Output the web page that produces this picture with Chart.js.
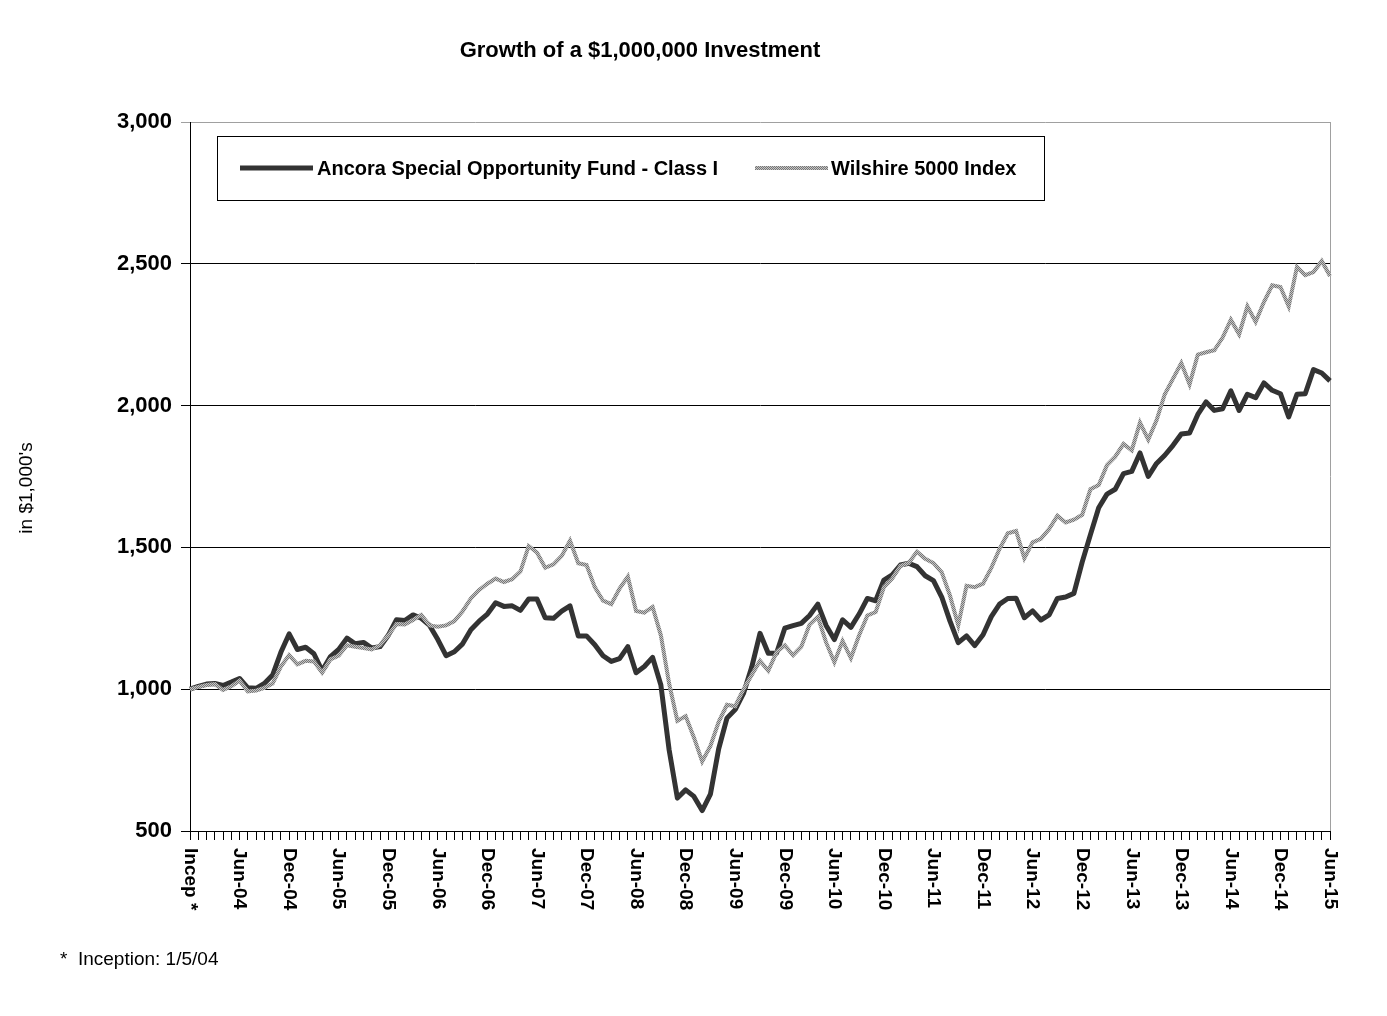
<!DOCTYPE html>
<html>
<head>
<meta charset="utf-8">
<title>Growth of a $1,000,000 Investment</title>
<script src="https://cdn.jsdelivr.net/npm/chart.js@4.4.1/dist/chart.umd.min.js"></script>
<style>
  html, body { margin: 0; padding: 0; background: #fff; }
  #wrap { width: 1387px; height: 1016px; position: relative; }
</style>
</head>
<body>
<div id="wrap"><canvas id="growthChart"></canvas></div>
<script>
// ---------------- DATA ----------------
// labelled ticks, one every 6 months (Incep = start value)
const tickLabels = ['Incep *', 'Jun-04', 'Dec-04', 'Jun-05', 'Dec-05', 'Jun-06', 'Dec-06',
  'Jun-07', 'Dec-07', 'Jun-08', 'Dec-08', 'Jun-09', 'Dec-09', 'Jun-10', 'Dec-10',
  'Jun-11', 'Dec-11', 'Jun-12', 'Dec-12', 'Jun-13', 'Dec-13', 'Jun-14', 'Dec-14', 'Jun-15'];

const seriesNames = ['Ancora Special Opportunity Fund - Class I', 'Wilshire 5000 Index'];

// monthly values in $1,000's
const fundValues = [
  1000, 1010, 1018, 1020, 1013, 1025, 1038, 1005, 1003, 1020, 1050, 1130,
  1195, 1140, 1148, 1125, 1065, 1115, 1140, 1180, 1160, 1165, 1145, 1150,
  1190, 1245, 1242, 1262, 1250, 1225, 1175, 1118, 1132, 1160, 1210, 1240,
  1265, 1305, 1292, 1294, 1278, 1318, 1318, 1252, 1250, 1275, 1294, 1188,
  1188, 1157, 1118, 1098, 1108, 1150, 1058, 1080, 1112, 1015, 786, 616,
  645, 622, 572, 630, 790, 898, 928, 985, 1078, 1197, 1127, 1127,
  1215, 1224, 1232, 1260, 1300, 1225, 1175, 1245, 1218, 1265, 1320, 1312,
  1385, 1403, 1438, 1444, 1432, 1400, 1383, 1325, 1240, 1164, 1188, 1154,
  1192, 1256, 1300, 1320, 1321, 1252, 1276, 1244, 1262, 1320, 1325, 1338,
  1448, 1545, 1640, 1688, 1705, 1760, 1768, 1833, 1750, 1796, 1825, 1860,
  1900, 1903, 1969, 2013, 1983, 1989, 2052, 1983, 2040, 2028, 2080, 2054,
  2042, 1960, 2040, 2042, 2127, 2115, 2087
];

const indexValues = [
  1000, 1008, 1015, 1018, 997, 1010, 1030, 992, 995, 1005, 1020, 1080,
  1120, 1088, 1100, 1098, 1058, 1105, 1118, 1155, 1150, 1145, 1140, 1155,
  1190, 1230, 1228, 1244, 1262, 1225, 1220, 1225, 1240, 1275, 1320, 1350,
  1372, 1390, 1378, 1388, 1415, 1505, 1482, 1428, 1440, 1470, 1524, 1444,
  1438, 1360, 1312, 1300, 1355, 1397, 1276, 1270, 1290, 1190, 1020, 888,
  905, 830, 745, 800, 885, 945, 940, 1000, 1050, 1100, 1065, 1130,
  1155, 1120, 1150, 1228, 1255, 1165, 1095, 1170, 1110, 1190, 1260, 1272,
  1360, 1390, 1435, 1445, 1485, 1460, 1445, 1412, 1330, 1225, 1365, 1360,
  1372, 1428, 1495, 1550, 1558, 1462, 1518, 1530, 1565, 1612, 1588, 1598,
  1615, 1705, 1720, 1790, 1820, 1865, 1842, 1940, 1880, 1948, 2040, 2095,
  2150, 2075, 2180, 2188, 2195, 2240, 2303, 2251, 2350, 2295, 2365, 2424,
  2418, 2350, 2489, 2460, 2471, 2510, 2457
];

const titleText = 'Growth of a $1,000,000 Investment';
const yTitle = "in $1,000's";
const footnote = '*  Inception: 1/5/04';

// one category per month, only every 6th one gets a name
const monthLabels = fundValues.map((v, i) => i % 6 === 0 ? tickLabels[i / 6] : '');

const FONT = '"Liberation Sans", Arial, sans-serif';
Chart.defaults.font.family = FONT;
Chart.defaults.color = '#000';

const canvas = document.getElementById('growthChart');

// the index line is drawn as a grey checkered (dithered) band like the original
function checkerPattern() {
  const c = document.createElement('canvas');
  c.width = 2; c.height = 2;
  const g = c.getContext('2d');
  g.fillStyle = '#c4c4c4'; g.fillRect(0, 0, 2, 2);
  g.fillStyle = '#767676'; g.fillRect(0, 0, 1, 1); g.fillRect(1, 1, 1, 1);
  return canvas.getContext('2d').createPattern(c, 'repeat');
}
const greyLine = checkerPattern();

// ---------------- EXTRA DRAWING ----------------
// title, boxed legend, axis title, rotated month labels and the footnote
const decorations = {
  id: 'decorations',
  beforeDatasetsDraw(chart) {
    const { ctx, chartArea: a } = chart;
    ctx.save();
    ctx.strokeStyle = '#a0a0a0';
    ctx.lineWidth = 1;
    ctx.beginPath();
    ctx.moveTo(a.right + 0.5, a.top);
    ctx.lineTo(a.right + 0.5, a.bottom);
    ctx.stroke();
    ctx.restore();
  },
  afterDraw(chart) {
    const { ctx, chartArea: a } = chart;
    const xs = chart.scales.x;
    ctx.save();

    // title
    ctx.fillStyle = '#000';
    ctx.font = 'bold 22px ' + FONT;
    ctx.textAlign = 'center';
    ctx.textBaseline = 'middle';
    ctx.fillText(titleText, 640, 51);

    // y axis title, reads bottom to top
    ctx.save();
    ctx.font = '19px ' + FONT;
    ctx.translate(27, 488);
    ctx.rotate(-Math.PI / 2);
    ctx.fillText(yTitle, 0, 0);
    ctx.restore();

    // legend box
    const lx = a.left + 27, ly = a.top + 14, lw = 827, lh = 64;
    ctx.fillStyle = '#fff';
    ctx.fillRect(lx, ly, lw, lh);
    ctx.strokeStyle = '#000';
    ctx.lineWidth = 1;
    ctx.strokeRect(lx + 0.5, ly + 0.5, lw, lh);
    const midY = ly + 32;
    const items = [
      { x: lx + 23, textX: lx + 100, ds: chart.data.datasets[0] },
      { x: lx + 538, textX: lx + 614, ds: chart.data.datasets[1] }
    ];
    ctx.textAlign = 'left';
    ctx.font = 'bold 20px ' + FONT;
    items.forEach(it => {
      ctx.strokeStyle = it.ds.borderColor;
      ctx.lineWidth = it.ds.borderWidth;
      ctx.beginPath();
      ctx.moveTo(it.x, midY);
      ctx.lineTo(it.x + 73, midY);
      ctx.stroke();
      ctx.fillStyle = '#000';
      ctx.fillText(it.ds.label, it.textX, midY + 1);
    });

    // x labels, turned to read top to bottom
    ctx.font = 'bold 19px ' + FONT;
    ctx.textAlign = 'left';
    ctx.textBaseline = 'middle';
    monthLabels.forEach((lab, i) => {
      if (!lab) return;
      ctx.save();
      ctx.translate(xs.getPixelForValue(i), a.bottom + 17);
      ctx.rotate(Math.PI / 2);
      ctx.fillText(lab, 0, 0);
      ctx.restore();
    });

    // footnote
    ctx.font = '19px ' + FONT;
    ctx.fillText(footnote, 60, 960);
    ctx.restore();
  }
};

// ---------------- LINE CHART ----------------
new Chart(canvas, {
  type: 'line',
  data: {
    labels: monthLabels,
    datasets: [
      {
        label: seriesNames[0],
        data: fundValues,
        borderColor: '#333333',
        borderWidth: 5,
        pointRadius: 0,
        tension: 0,
        borderJoinStyle: 'round',
        fill: false,
        order: 1
      },
      {
        label: seriesNames[1],
        data: indexValues,
        borderColor: greyLine,
        borderWidth: 4,
        pointRadius: 0,
        tension: 0,
        fill: false,
        order: 0
      }
    ]
  },
  options: {
    responsive: true,
    maintainAspectRatio: false,
    animation: false,
    layout: { padding: { top: 122, right: 57, bottom: 85, left: 0 } },
    plugins: {
      legend: { display: false },
      title: { display: false },
      tooltip: { enabled: false }
    },
    scales: {
      x: {
        type: 'category',
        offset: false,
        grid: { drawOnChartArea: false, drawTicks: true, tickLength: 9, color: '#000' },
        border: { color: '#000', width: 1 },
        ticks: { display: false },
        afterFit(scale) { scale.height = 100; }
      },
      y: {
        min: 500,
        max: 3000,
        ticks: {
          stepSize: 500,
          padding: 9,
          color: '#000',
          font: { size: 22, weight: 'bold' },
          callback: v => v.toLocaleString('en-US')
        },
        grid: {
          tickLength: 9,
          color: ctx => ctx.tick && ctx.tick.value === 3000 ? '#a0a0a0' : '#000'
        },
        border: { color: '#000', width: 1 },
        afterFit(scale) { scale.width = 190; }
      }
    }
  },
  plugins: [decorations]
});
</script>
</body>
</html>
